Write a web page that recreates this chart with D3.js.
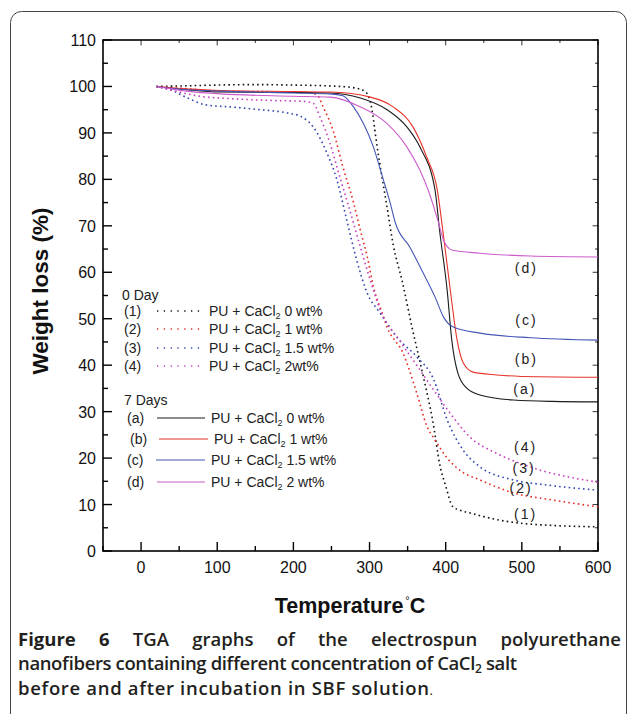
<!DOCTYPE html>
<html><head><meta charset="utf-8">
<script src="https://cdn.jsdelivr.net/npm/d3@7"></script>
<style>
body{margin:0;background:#fff;}
svg{display:block;}
</style></head>
<body>
<svg id="c" width="627" height="714"></svg>
<script>
// ---- data (Temperature °C, Weight %) ----
const xTicks = [0,100,200,300,400,500,600];
const yTicks = [0,10,20,30,40,50,60,70,80,90,100,110];

const s1T = [20,50,100,150,200,250,280,295,302,310,323,331,343,356,370,383,393,400,409,420,432,450,479,503,540,600];
const s1W = [100,100.1,100.3,100.4,100.3,100.1,99.7,98.8,96,87,74,66,58,48,38,28,18,14,9.6,8.7,8.2,7.4,6.4,5.9,5.5,5.2];

const s2T = [20,60,104,150,213,231,239,252,265,279,288,297,305,316,323,344,362,375,386,402,420,445,489,540,600];
const s2W = [100,99.5,99,98.9,98.8,98.2,95.6,90.6,82.7,75,69,63.3,57,51.5,48.2,42.6,34,27,23.9,20,17.2,15.3,12.5,11,9.5];

const s3T = [20,38,60,86,117,156,192,209,226,244,257,270,283,297,314,336,362,384,402,423,445,489,533,600];
const s3W = [100,99.3,97.6,96,95.6,95,94.3,93.6,91.3,85.7,80,71.3,62.7,55.5,51.2,46,41.8,37,28.2,21.7,18.1,15.3,14.2,13.1];

const s4T = [20,50,86,104,169,213,226,235,248,261,274,288,301,314,340,366,384,402,432,467,511,600];
const s4W = [100,98.8,97.7,97.5,97,96.8,96.4,93.4,87.8,80.5,73.4,65.4,58.3,51.9,45.2,39,34.7,30.5,24.5,21,18.1,14.8];

const aT = [20,60,104,200,248,288,323,349,366,386,392,402,408,416,428,445,489,540,600];
const aW = [100,99.3,98.8,98.7,98.6,97.5,95,91.3,87,77.7,69,56,45.4,38.3,35,33.6,32.5,32.2,32.1];

const bT = [20,60,104,200,248,301,331,357,375,389,397,406,415,423,436,467,520,600];
const bW = [100,99.5,99.1,98.9,98.8,97.7,95.6,91.3,84.8,77.7,68,56.2,45.4,40.5,38.5,37.9,37.5,37.4];

const cT = [20,60,104,200,248,265,279,292,305,318,327,334,353,370,386,397,410,445,511,600];
const cW = [100,99.3,99,98.6,98.4,98,95.6,92,87,80,75,70.6,65.4,60,54.7,50.4,48.2,46.9,45.9,45.4];

const dT = [20,60,104,200,248,288,323,349,366,377,390,397,408,445,511,600];
const dW = [100,99,98.4,97.9,97.7,95.6,92,87,82,77.7,71,67,64.8,64.1,63.5,63.3];

const seriesNames = ["(1)","(2)","(3)","(4)","(a)","(b)","(c)","(d)"];
const legendText0 = ["0 wt%","1 wt%","1.5 wt%","2wt%"];
const legendText7 = ["0 wt%","1 wt%","1.5 wt%","2 wt%"];

// ---- layout ----
const svg = d3.select("#c");
const x = d3.scaleLinear().domain([-50,600]).range([103,598]);
const y = d3.scaleLinear().domain([0,110]).range([551,40]);

const cols = {black:"#111", red:"#e52a22", blue:"#3346b0", pink:"#c640c0"};
const colSolid = {black:"#1a1a1a", red:"#e8342a", blue:"#4656b4", pink:"#cc5ccc"};

// card border
svg.append("rect").attr("x",10.5).attr("y",11.5).attr("width",616).attr("height",800)
  .attr("rx",11).attr("fill","none").attr("stroke","#444").attr("stroke-width",1);

const g = svg.append("g");
g.append("rect").attr("x",103).attr("y",40).attr("width",495).attr("height",511)
  .attr("fill","none").attr("stroke","#000").attr("stroke-width",1.6);

const xMinor = d3.range(-50,601,50);
const yMinor = d3.range(0,111,5);
function tickLen(v, step){ return (v % step === 0) ? 9 : 5; }
xMinor.forEach(v=>{
  const L = tickLen(v,100);
  g.append("line").attr("x1",x(v)).attr("x2",x(v)).attr("y1",551).attr("y2",551-L).attr("stroke","#000").attr("stroke-width",1.4);
  g.append("line").attr("x1",x(v)).attr("x2",x(v)).attr("y1",40).attr("y2",40+L*0.6).attr("stroke","#000").attr("stroke-width",0.8);
});
yMinor.forEach(v=>{
  const L = tickLen(v,10);
  g.append("line").attr("y1",y(v)).attr("y2",y(v)).attr("x1",103).attr("x2",103+L).attr("stroke","#000").attr("stroke-width",1.4);
  g.append("line").attr("y1",y(v)).attr("y2",y(v)).attr("x1",598).attr("x2",598-L*0.6).attr("stroke","#000").attr("stroke-width",0.8);
});
const axFont = "'Liberation Sans', Arial, sans-serif";
g.selectAll(".xl").data(xTicks).enter().append("text")
  .attr("x",d=>x(d)).attr("y",573).attr("text-anchor","middle")
  .attr("font-family",axFont).attr("font-size",16).attr("fill","#111").text(d=>d);
g.selectAll(".yl").data(yTicks).enter().append("text")
  .attr("x",96).attr("y",d=>y(d)+6).attr("text-anchor","end")
  .attr("font-family",axFont).attr("font-size",16).attr("fill","#111").text(d=>d);

svg.append("text").attr("transform","translate(48,291) rotate(-90)").attr("text-anchor","middle")
  .attr("font-family",axFont).attr("font-weight","bold").attr("font-size",22.5).attr("fill","#111")
  .text("Weight loss (%)");
const xt = svg.append("text").attr("x",350).attr("y",613).attr("text-anchor","middle")
  .attr("font-family",axFont).attr("font-weight","bold").attr("font-size",21.5).attr("fill","#111");
xt.append("tspan").text("Temperature");
xt.append("tspan").attr("font-size",11).attr("font-weight","normal").attr("dy",-9).attr("dx",2).text("°");
xt.append("tspan").attr("dy",9).text("C");

const line = d3.line().x(d=>x(d[0])).y(d=>y(d[1])).curve(d3.curveMonotoneX);
const zipS = (T,W)=>T.map((t,i)=>[t,W[i]]);
const series = [
  {T:s1T,W:s1W,c:cols.black,dot:true},
  {T:s2T,W:s2W,c:cols.red,dot:true},
  {T:s3T,W:s3W,c:cols.blue,dot:true},
  {T:s4T,W:s4W,c:cols.pink,dot:true},
  {T:aT,W:aW,c:colSolid.black,dot:false},
  {T:bT,W:bW,c:colSolid.red,dot:false},
  {T:cT,W:cW,c:colSolid.blue,dot:false},
  {T:dT,W:dW,c:colSolid.pink,dot:false}
];
series.forEach(s=>{
  g.append("path").attr("d",line(zipS(s.T,s.W))).attr("fill","none")
   .attr("stroke",s.c).attr("stroke-width",s.dot?1.6:1.1)
   .attr("stroke-dasharray",s.dot?"1.6,3.2":null);
});

const curveLabelPos = [[505,6.8],[499,12.4],[503,16.8],[505,21.3],[504,33.8],[506,40.2],[506,48.6],[506,59.9]];
seriesNames.forEach((n,i)=>{
  const p = curveLabelPos[i];
  g.append("text").attr("x",x(p[0])).attr("y",y(p[1])).attr("text-anchor","middle")
   .attr("font-family",axFont).attr("font-size",14).attr("letter-spacing",2).attr("fill","#222")
   .text(n);
});

const lg = svg.append("g").attr("font-family",axFont).attr("font-size",14).attr("fill","#222");
lg.append("text").attr("x",122).attr("y",300).text("0 Day");
const rows0 = [316,334,353,371];
rows0.forEach((yy,i)=>{
  lg.append("text").attr("x",124).attr("y",yy).text(seriesNames[i]);
  lg.append("line").attr("x1",157).attr("x2",203).attr("y1",yy-5).attr("y2",yy-5)
    .attr("stroke",series[i].c).attr("stroke-width",1.3).attr("stroke-dasharray","1.3,5.5");
  const t = lg.append("text").attr("x",209).attr("y",yy);
  t.append("tspan").text("PU + CaCl");
  t.append("tspan").attr("font-size",9).attr("dy",3).text("2");
  t.append("tspan").attr("dy",-3).text(" "+legendText0[i]);
});
lg.append("text").attr("x",124).attr("y",405).text("7 Days");
const rows7 = [423,444,465,487];
const lx7 = [[157,205,211,127],[159,208,214,130],[156,205,211,127],[157,205,211,127]];
rows7.forEach((yy,i)=>{
  const L = lx7[i];
  lg.append("text").attr("x",L[3]).attr("y",yy).text(seriesNames[4+i]);
  lg.append("line").attr("x1",L[0]).attr("x2",L[1]).attr("y1",yy-5).attr("y2",yy-5)
    .attr("stroke",series[4+i].c).attr("stroke-width",1.1);
  const t = lg.append("text").attr("x",L[2]).attr("y",yy);
  t.append("tspan").text("PU + CaCl");
  t.append("tspan").attr("font-size",9).attr("dy",3).text("2");
  t.append("tspan").attr("dy",-3).text(" "+legendText7[i]);
});

// caption
const capFont = "'Open Sans', 'Noto Sans', sans-serif";
const cap = svg.append("g").attr("font-family",capFont).attr("font-size",18.5).attr("fill","#231f20");
const words1 = [["Figure",700],["6",700],["TGA",600],["graphs",600],["of",600],["the",600],["electrospun",600],["polyurethane",600]];
const ws = words1.map(w=>{
  const t = cap.append("text").attr("y",646).attr("font-weight",w[1]).text(w[0]);
  return {t, w:t.node().getComputedTextLength()};
});
const left=18, right=621;
const total = ws.reduce((a,b)=>a+b.w,0);
const gap = (right-left-total)/(ws.length-1);
let cx = left;
ws.forEach(o=>{ o.t.attr("x",cx); cx += o.w + gap; });
const l2 = cap.append("text").attr("x",18).attr("y",670).attr("font-weight",600)
  .attr("textLength",499).attr("lengthAdjust","spacing");
l2.append("tspan").text("nanofibers containing different concentration of CaCl");
l2.append("tspan").attr("font-size",12).attr("dy",3).text("2");
l2.append("tspan").attr("dy",-3).text(" salt");
const l3 = cap.append("text").attr("x",18).attr("y",694.5).attr("font-weight",600)
  .attr("textLength",415).attr("lengthAdjust","spacing");
l3.append("tspan").text("before and after incubation in SBF solution");
l3.append("tspan").attr("font-size",13).attr("font-weight",400).text(".");
</script>
</body></html>
